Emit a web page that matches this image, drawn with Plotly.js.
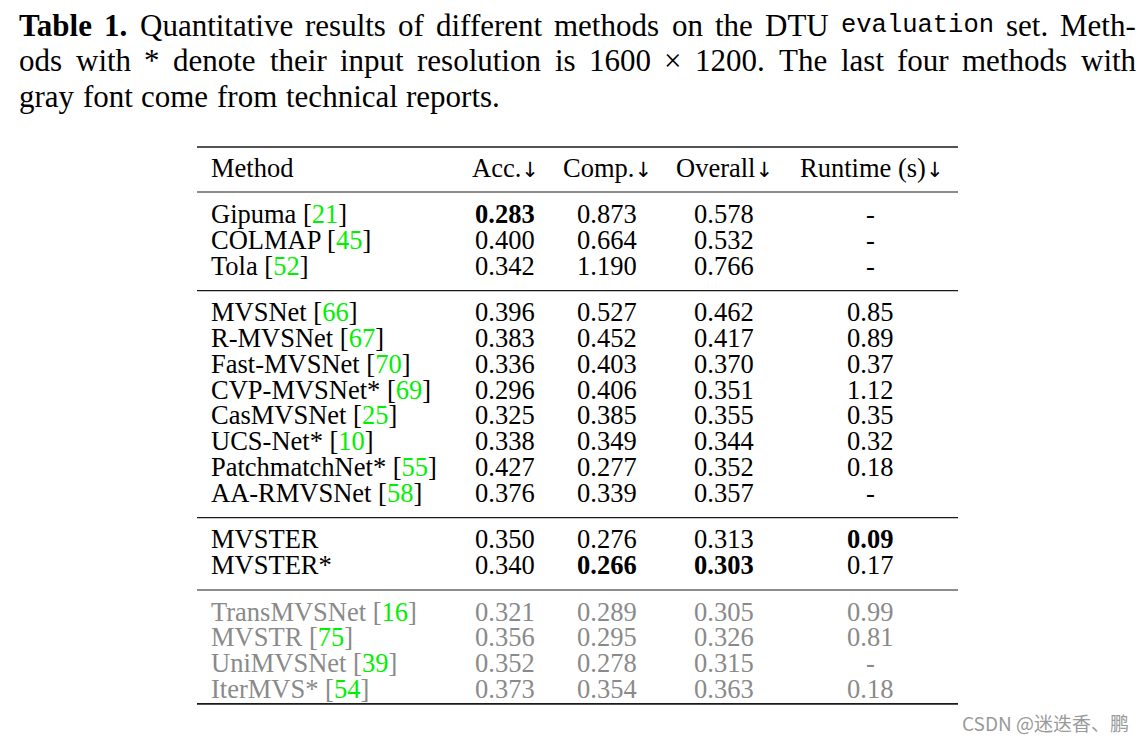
<!DOCTYPE html>
<html><head><meta charset="utf-8">
<script src="https://cdn.plot.ly/plotly-3.0.1.min.js"></script>
<style>html,body{margin:0;padding:0;background:#fff}#chart{width:1144px;height:742px}</style>
</head><body><div id="chart"></div>
<script>
// ---------------- data ----------------
const headers = ["Method", "Acc.↓", "Comp.↓", "Overall↓", "Runtime (s)↓"];
const methods = ["Gipuma", "COLMAP", "Tola",
  "MVSNet", "R-MVSNet", "Fast-MVSNet", "CVP-MVSNet*", "CasMVSNet", "UCS-Net*", "PatchmatchNet*", "AA-RMVSNet",
  "MVSTER", "MVSTER*",
  "TransMVSNet", "MVSTR", "UniMVSNet", "IterMVS*"];
const cites = [21, 45, 52, 66, 67, 70, 69, 25, 10, 55, 58, null, null, 16, 75, 39, 54];
const acc = [0.283, 0.400, 0.342, 0.396, 0.383, 0.336, 0.296, 0.325, 0.338, 0.427, 0.376, 0.350, 0.340, 0.321, 0.356, 0.352, 0.373];
const comp = [0.873, 0.664, 1.190, 0.527, 0.452, 0.403, 0.406, 0.385, 0.349, 0.277, 0.339, 0.276, 0.266, 0.289, 0.295, 0.278, 0.354];
const overall = [0.578, 0.532, 0.766, 0.462, 0.417, 0.370, 0.351, 0.355, 0.344, 0.352, 0.357, 0.313, 0.303, 0.305, 0.326, 0.315, 0.363];
const runtime = [null, null, null, 0.85, 0.89, 0.37, 1.12, 0.35, 0.32, 0.18, null, 0.09, 0.17, 0.99, 0.81, null, 0.18];
const groupSizes = [3, 8, 2, 4];
const grayGroup = 3;
const boldAcc = [0], boldComp = [12], boldOverall = [12], boldRuntime = [11];
const captionLines = [
  [["Table", "b"], ["1.", "b"], "Quantitative", "results", "of", "different", "methods", "on", "the", "DTU", ["evaluation", "m"], "set.", "Meth-"],
  ["ods", "with", "*", "denote", "their", "input", "resolution", "is", "1600", "×", "1200.", "The", "last", "four", "methods", "with"],
  ["gray", "font", "come", "from", "technical", "reports."]
];
const captionJustify = [true, true, false];
const watermark = "CSDN @迷迭香、鹏";

// ---------------- style / layout ----------------
const SERIF = "Liberation Serif";
const MONO = "Liberation Mono";
const ARROWFONT = "DejaVu Sans";
const FS = 26.5;      // table font
const CFS = 31;       // caption font
const MFS = 25.5;     // caption monospace font
const GRAY = "#8a8a8a";
const GREEN = "#00f000";
const colX = [210, 505, 607, 724, 871];
const tableL = 197, tableR = 958;

const ann = [];
const shapes = [];
const canvas = document.createElement("canvas");
const ctx = canvas.getContext("2d");
function measure(t, style) {
  if (style === "m") ctx.font = MFS + "px \"" + MONO + "\"";
  else ctx.font = (style === "b" ? "bold " : "") + CFS + "px \"" + SERIF + "\"";
  return ctx.measureText(t).width;
}
// caption
const capL = 18, capR = 1135, capY0 = 25, capDy = 35.6;
captionLines.forEach((line, li) => {
  const words = line.map(w => Array.isArray(w) ? w : [w, ""]);
  const widths = words.map(([t, s]) => measure(t, s));
  const total = widths.reduce((a, b) => a + b, 0);
  const gap = captionJustify[li] ? (capR - capL - total) / (words.length - 1) : measure(" ", "") * 1.1;
  let x = capL;
  words.forEach(([t, s], i) => {
    ann.push({
      x: x, y: capY0 + li * capDy, xref: "x", yref: "y", xanchor: "left", yanchor: "middle",
      text: s === "b" ? "<b>" + t + "</b>" : t, showarrow: false, borderpad: 0,
      font: {family: s === "m" ? MONO : SERIF, size: s === "m" ? MFS : CFS, color: "#000"}
    });
    x += widths[i] + gap;
  });
});

function hline(y, w) {
  shapes.push({type: "line", xref: "x", yref: "y", x0: tableL, x1: tableR, y0: y, y1: y, line: {color: "#1a1a1a", width: w}});
}
function arrowize(h) {
  return h.replace("↓", "<span style=\"font-family:'" + ARROWFONT + "';font-size:21px\">↓</span>");
}
// header
const topRule = 147, headerY = 168, headRule = 192;
hline(topRule, 1.6);
headers.forEach((h, i) => {
  ann.push({x: colX[i], y: headerY, xref: "x", yref: "y", xanchor: i === 0 ? "left" : "center", yanchor: "middle",
    text: arrowize(h), showarrow: false, borderpad: 0, font: {family: SERIF, size: FS, color: "#000"}});
});
hline(headRule, 1.2);

const rowH = 25.8;
let y = 214;
let r = 0;
const fmt3 = v => v.toFixed(3);
const fmt2 = v => v === null ? "-" : v.toFixed(2);
groupSizes.forEach((n, g) => {
  const col = g === grayGroup ? GRAY : "#000";
  for (let k = 0; k < n; k++, r++) {
    const cite = cites[r] === null ? "" : " [<span style=\"color:" + GREEN + "\">" + cites[r] + "</span>]";
    const cells = [
      methods[r] + cite,
      boldAcc.includes(r) ? "<b>" + fmt3(acc[r]) + "</b>" : fmt3(acc[r]),
      boldComp.includes(r) ? "<b>" + fmt3(comp[r]) + "</b>" : fmt3(comp[r]),
      boldOverall.includes(r) ? "<b>" + fmt3(overall[r]) + "</b>" : fmt3(overall[r]),
      boldRuntime.includes(r) ? "<b>" + fmt2(runtime[r]) + "</b>" : fmt2(runtime[r])
    ];
    cells.forEach((c, i) => {
      ann.push({x: colX[i] - (i === 4 ? 1 : 0), y: y, xref: "x", yref: "y", xanchor: i === 0 ? "left" : "center", yanchor: "middle",
        text: c, showarrow: false, borderpad: 0, font: {family: SERIF, size: FS, color: col}});
    });
    if (k < n - 1) y += rowH;
  }
  if (g < groupSizes.length - 1) {
    const ry = y + 25;
    hline(ry, 1.2);
    y = ry + 21.5;
  } else {
    hline(y + 15, 1.6);
  }
});

ann.push({x: 1130, y: 722, xref: "x", yref: "y", xanchor: "right", yanchor: "middle", text: watermark, showarrow: false,
  borderpad: 0, font: {family: "Noto Sans CJK SC", size: 19, color: "#9a9a9a"}});

const layout = {
  width: 1144, height: 742,
  margin: {l: 0, r: 0, t: 0, b: 0},
  paper_bgcolor: "#fff", plot_bgcolor: "#fff",
  xaxis: {range: [0, 1144], visible: false, fixedrange: true},
  yaxis: {range: [742, 0], visible: false, fixedrange: true},
  showlegend: false,
  annotations: ann,
  shapes: shapes
};
Plotly.newPlot("chart", [{x: [], y: [], type: "scatter"}], layout, {displayModeBar: false, staticPlot: true});
</script>
</body></html>
